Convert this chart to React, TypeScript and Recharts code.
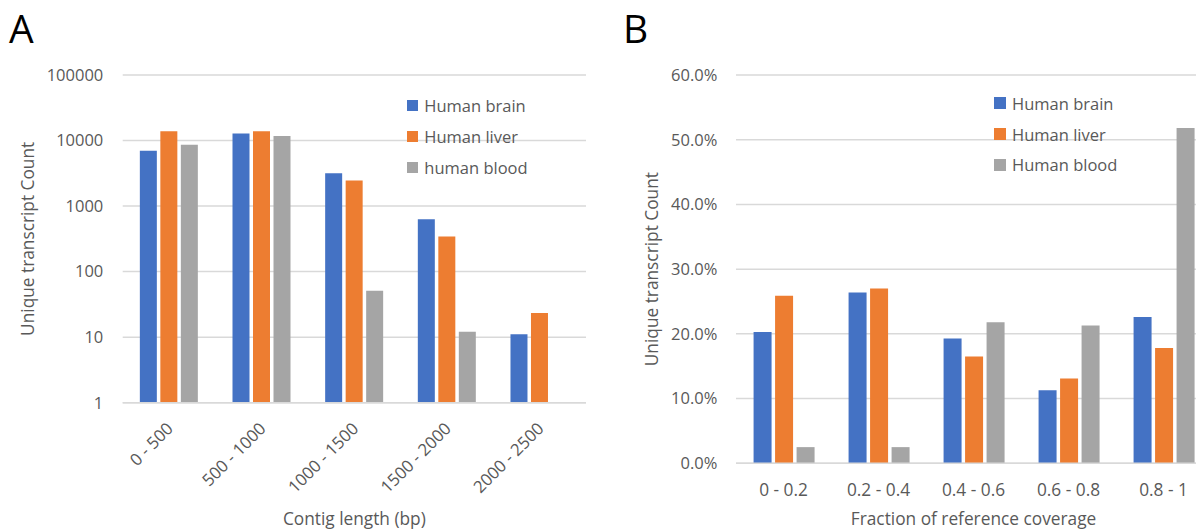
import React from "react";
import { BarChart, Bar, XAxis, YAxis, CartesianGrid, Legend, Label } from "recharts";

const FONT = "'Open Sans', sans-serif";
const INK = "#595959";
const GRID = "#D9D9D9";
const BLUE = "#4472C4";
const ORANGE = "#ED7D31";
const GRAY = "#A5A5A5";

// panel A: counts by contig length (log scale)
const lengthBins = ["0 - 500", "500 - 1000", "1000 - 1500", "1500 - 2000", "2000 - 2500"];
const brainCounts = [7000, 12800, 3170, 630, 11.1];
const liverCounts = [13900, 13900, 2450, 342, 23.4];
const bloodCounts: (number | null)[] = [8600, 11700, 51, 12.1, null];
const countTicks = [1, 10, 100, 1000, 10000, 100000];
const seriesA = ["Human brain", "Human liver", "human blood"];

// panel B: share of transcripts by reference coverage (%)
const coverageBins = ["0 - 0.2", "0.2 - 0.4", "0.4 - 0.6", "0.6 - 0.8", "0.8 - 1"];
const brainShare = [20.3, 26.4, 19.3, 11.3, 22.6];
const liverShare = [25.9, 27.0, 16.5, 13.1, 17.8];
const bloodShare = [2.5, 2.5, 21.8, 21.3, 51.8];
const shareTicks = [0, 10, 20, 30, 40, 50, 60];
const seriesB = ["Human brain", "Human liver", "Human blood"];

const colors = [BLUE, ORANGE, GRAY];

const lengthData = lengthBins.map((bin, i) => ({
  bin,
  brain: brainCounts[i],
  liver: liverCounts[i],
  blood: bloodCounts[i],
}));

const coverageData = coverageBins.map((bin, i) => ({
  bin,
  brain: brainShare[i],
  liver: liverShare[i],
  blood: bloodShare[i],
}));

const tickStyle = { fill: INK, fontSize: 16.5, fontFamily: FONT };
const titleStyle = { fill: INK, fontSize: 17.3, fontFamily: FONT };

function SlantTick({ x, y, payload }: any) {
  const ax = x + 0.5;
  const ay = y + 14.5;
  return (
    <text
      x={ax}
      y={ay}
      transform={`rotate(-45 ${ax} ${ay})`}
      textAnchor="end"
      dominantBaseline="central"
      fill={INK}
      fontSize={16.8}
      fontFamily={FONT}
    >
      {payload.value}
    </text>
  );
}

function sideTitle(text: string, dx: number) {
  return (props: any) => {
    const vb = props.viewBox;
    const cx = vb.x + dx;
    const cy = vb.y + vb.height / 2;
    return (
      <text
        x={cx}
        y={cy}
        transform={`rotate(-90 ${cx} ${cy})`}
        textAnchor="middle"
        dominantBaseline="central"
        fill={INK}
        fontSize={17.3}
        fontFamily={FONT}
      >
        {text}
      </text>
    );
  };
}

function SeriesKey({ names, box }: { names: string[]; box: number }) {
  return (
    <div style={{ fontFamily: FONT, fontSize: 16.5, color: INK }}>
      {names.map((n, i) => (
        <div key={n} style={{ display: "flex", alignItems: "center", height: 30.8, whiteSpace: "nowrap" }}>
          <span style={{ display: "inline-block", width: box, height: box, background: colors[i], marginRight: 6 }} />
          {n}
        </div>
      ))}
    </div>
  );
}

function PanelA() {
  return (
    <BarChart
      width={600}
      height={529}
      data={lengthData}
      margin={{ top: 75, right: 14, bottom: 0, left: 0 }}
      barCategoryGap="18.5%"
      barGap={3.5}
    >
      <CartesianGrid vertical={false} stroke={GRID} strokeWidth={1.5} />
      <XAxis
        dataKey="bin"
        height={126.3}
        interval={0}
        axisLine={{ stroke: GRID, strokeWidth: 1.5 }}
        tickLine={false}
        tick={<SlantTick />}
      >
        <Label value="Contig length (bp)" position="insideBottom" offset={4} style={titleStyle} />
      </XAxis>
      <YAxis
        scale="log"
        domain={[1, 100000]}
        ticks={countTicks}
        allowDataOverflow
        width={122.7}
        axisLine={false}
        tickLine={false}
        tickSize={0}
        tickMargin={19.4}
        tick={tickStyle}
      >
        <Label content={sideTitle("Unique transcript Count", 28)} />
      </YAxis>
      <Legend
        layout="horizontal"
        align="center"
        verticalAlign="middle"
        wrapperStyle={{ left: 407.3, top: 90.3, width: "auto" }}
        content={() => <SeriesKey names={seriesA} box={11} />}
      />
      <Bar dataKey="brain" name={seriesA[0]} fill={BLUE} isAnimationActive={false} />
      <Bar dataKey="liver" name={seriesA[1]} fill={ORANGE} isAnimationActive={false} />
      <Bar dataKey="blood" name={seriesA[2]} fill={GRAY} isAnimationActive={false} />
    </BarChart>
  );
}

function PanelB() {
  return (
    <BarChart
      width={620}
      height={529}
      data={coverageData}
      margin={{ top: 75, right: 9, bottom: 0, left: 0 }}
      barCategoryGap="18.5%"
      barGap={3.5}
    >
      <CartesianGrid vertical={false} stroke={GRID} strokeWidth={1.5} />
      <XAxis
        dataKey="bin"
        height={65.7}
        interval={0}
        axisLine={{ stroke: GRID, strokeWidth: 1.5 }}
        tickLine={false}
        tickSize={0}
        tickMargin={20.7}
        tick={{ ...tickStyle, fontSize: 17.3 }}
      >
        <Label value="Fraction of reference coverage" position="insideBottom" offset={4} style={titleStyle} />
      </XAxis>
      <YAxis
        domain={[0, 60]}
        ticks={shareTicks}
        width={136}
        axisLine={false}
        tickLine={false}
        tickSize={0}
        tickMargin={18.7}
        tick={tickStyle}
        tickFormatter={(v: number) => `${v.toFixed(1)}%`}
      >
        <Label content={sideTitle("Unique transcript Count", 52)} />
      </YAxis>
      <Legend
        layout="horizontal"
        align="center"
        verticalAlign="middle"
        wrapperStyle={{ left: 394, top: 87.9, width: "auto" }}
        content={() => <SeriesKey names={seriesB} box={12} />}
      />
      <Bar dataKey="brain" name={seriesB[0]} fill={BLUE} isAnimationActive={false} />
      <Bar dataKey="liver" name={seriesB[1]} fill={ORANGE} isAnimationActive={false} />
      <Bar dataKey="blood" name={seriesB[2]} fill={GRAY} isAnimationActive={false} />
    </BarChart>
  );
}

export default function App() {
  return (
    <div
      style={{
        position: "absolute",
        left: 0,
        top: 0,
        width: 1196,
        height: 529,
        overflow: "hidden",
        background: "#fff",
      }}
    >
      <div style={{ position: "absolute", left: 0, top: 0 }}>
        <PanelA />
      </div>
      <div style={{ position: "absolute", left: 600, top: 0 }}>
        <PanelB />
      </div>
      <svg
        width={1196}
        height={529}
        style={{ position: "absolute", left: 0, top: 0, pointerEvents: "none" }}
      >
        <text x={9} y={43} fontSize={39} fontFamily={FONT} fill="#000">
          A
        </text>
        <text x={623} y={43} fontSize={39} fontFamily={FONT} fill="#000">
          B
        </text>
      </svg>
    </div>
  );
}
